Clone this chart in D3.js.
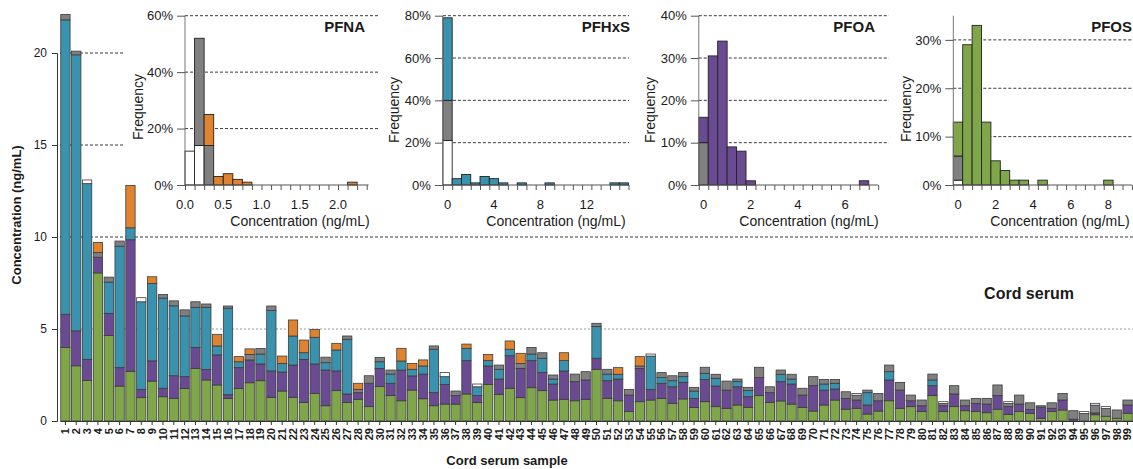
<!DOCTYPE html>
<html><head><meta charset="utf-8">
<script src="https://cdn.jsdelivr.net/npm/d3@7"></script>
<style>
body{margin:0;background:#fff}
svg{display:block}
text{font-family:"Liberation Sans",Arial,Helvetica,sans-serif;fill:#1a1a1a}
</style>
</head><body>
<svg id="c" width="1133" height="469"></svg>
<script>
// ---------- main chart data (ng/mL) ----------
const samples = d3.range(1, 100).map(String);
const pfos  = [4.0,3.0,2.2,8.05,4.65,1.9,2.7,1.27,2.17,1.32,1.23,1.76,2.86,2.23,1.96,1.23,1.76,2.08,2.19,1.29,1.63,1.29,1.01,1.5,0.83,1.65,1.01,1.18,0.78,1.87,1.38,1.1,1.68,1.21,0.83,0.92,0.92,1.47,1.01,1.99,1.45,1.78,1.27,1.81,1.65,1.14,1.18,1.1,1.18,2.81,1.23,1.1,0.51,1.05,1.14,1.23,0.96,1.2,0.74,1.05,0.78,0.69,0.87,0.74,1.38,1.01,1.09,0.92,0.74,0.54,0.87,1.14,0.64,0.69,0.38,0.54,1.1,0.69,0.78,0.51,1.38,0.51,0.78,0.56,0.51,0.45,0.64,0.36,0.51,0.42,0.15,0.51,0.6,0,0,0.34,0.26,0.15,0.42];
const pfoa  = [1.8,1.9,1.15,0.85,1.2,1.0,7.15,0.45,1.1,0.46,1.23,0.65,1.14,0.57,1.63,0.2,1.14,1.24,0.91,1.43,1.03,1.75,2.34,1.6,1.94,1.07,0.46,0.36,1.27,0.99,0.67,1.67,0.77,1.34,0.71,1.07,0.46,1.81,0.37,1.0,0.83,1.77,1.59,1.47,0.98,0.87,1.54,1.04,1.05,0.6,0.96,1.18,0.9,1.81,0.58,0.82,0.9,0.9,0.49,1.21,1.12,0.99,0.99,0.58,0.98,0.53,1.05,1.09,0.67,1.38,0.81,0.6,0.59,0.45,0.49,0.56,1.13,0.99,0.32,0.32,0.54,0.32,0.69,0.27,0.45,0.47,0.74,0.42,0.41,0.2,0.6,0.18,0.54,0.1,0,0.1,0,0,0.45];
const pfhxs = [16.0,15.0,9.55,0,1.7,6.6,0.65,4.76,4.2,4.9,3.8,3.3,2.18,3.38,0.49,4.7,0.32,0,0.54,3.28,0.47,1.58,0.36,1.45,0.4,1.14,2.97,0,0,0.36,0.5,0.49,0.36,0.44,2.36,0.42,0,0.67,0.48,0.29,0.53,0.35,0,0.36,0.78,0.27,0.56,0,0,1.72,0.36,0.26,0,0,1.81,0.31,0.33,0.31,0.4,0.33,0.42,0,0.28,0.33,0,0,0.4,0.27,0,0,0.33,0.31,0,0,0.67,0,0.45,0,0,0,0.31,0,0,0,0,0,0,0,0,0,0,0,0,0,0,0,0,0,0];
const other = [0.3,0.2,0,0.25,0.27,0.28,0,0,0,0.2,0.27,0.33,0.3,0.18,0,0.12,0,0.3,0.3,0.25,0,0,0,0,0.3,0,0.18,0.18,0.41,0.24,0.22,0,0,0,0.18,0,0.25,0,0,0,0.23,0,0.27,0.36,0.3,0.22,0,0.41,0.45,0.18,0.26,0,0.31,0.13,0,0.27,0.27,0.22,0.2,0.33,0.22,0.49,0.14,0.18,0.56,0.32,0.23,0.26,0.37,0.49,0.25,0.21,0.36,0.26,0.14,0.4,0.36,0.42,0.31,0.31,0.32,0.12,0.45,0.31,0.27,0.31,0.58,0.17,0.49,0.37,0.08,0.3,0.36,0.46,0.41,0.42,0.42,0.45,0.27];
const pfna  = [0,0,0,0.55,0,0,2.3,0,0.37,0,0,0,0,0,0.63,0,0.28,0.3,0,0,0.4,0.87,0.69,0.43,0,0.36,0,0.33,0,0,0,0.69,0.32,0.33,0,0,0,0.23,0,0.34,0,0.45,0.55,0,0,0,0.43,0,0,0,0,0.36,0,0.51,0,0,0,0,0,0,0,0,0,0,0,0,0,0,0,0,0,0,0,0,0,0,0,0,0,0,0,0,0,0,0,0,0,0,0,0,0,0,0,0,0,0,0,0,0];
const belowLod = [0,0,0.2,0,0,0,0,0.22,0,0,0,0,0,0,0,0,0,0,0,0,0,0,0,0,0,0,0,0,0,0,0,0,0,0,0,0.22,0,0,0.15,0,0,0,0,0,0,0,0,0,0,0,0,0,0,0,0.11,0,0,0,0,0,0,0,0,0,0,0,0,0,0,0,0,0,0,0.1,0,0,0,0,0,0,0,0.1,0,0,0,0,0,0.1,0,0,0,0,0,0,0.1,0.1,0.1,0,0];
const yTicks = [0, 5, 10, 15, 20];

// ---------- inset histogram data (% of samples) ----------
// PFNA: bins of 0.125 ng/mL, given by left edge
const pfnaBinStart = [0,0.125,0.25,0.375,0.5,0.625,0.75,2.125];
const pfnaWhite    = [12,14,0,0,0,0,0,0];
const pfnaGray     = [0,38,14,0,0,0,0,0];
const pfnaFreq     = [0,0,11,3,4,2,1,1];
const pfnaYTicks = [0,20,40,60];
const pfnaXLabels = [0,0.5,1.0,1.5,2.0];
// PFHxS: bins of 0.8, given by centre
const pfhxsBinMid = [0,0.8,1.6,2.4,3.2,4.0,4.8,6.4,8.8,14.4,15.2];
const pfhxsWhite  = [21,0,0,0,0,0,0,0,0,0,0];
const pfhxsGray   = [19,0,0,0,0,0,0,0,0,0,0];
const pfhxsFreq   = [39,3,5,1,4,3,1,1,1,1,1];
const pfhxsYTicks = [0,20,40,60,80];
const pfhxsXLabels = [0,4,8,12];
// PFOA: bins of 0.4, given by centre
const pfoaBinMid = [0,0.4,0.8,1.2,1.6,2.0,6.8];
const pfoaWhite  = [0,0,0,0,0,0,0];
const pfoaGray   = [10,0,0,0,0,0,0];
const pfoaFreq   = [6,30.5,34,9,8,1,1];
const pfoaYTicks = [0,10,20,30,40];
const pfoaXLabels = [0,2,4,6];
// PFOS: bins of 0.5, given by centre
const pfosBinMid = [0,0.5,1.0,1.5,2.0,2.5,3.0,3.5,4.5,8.0];
const pfosWhite  = [1,0,0,0,0,0,0,0,0,0];
const pfosGray   = [5,0,0,0,0,0,0,0,0,0];
const pfosFreq   = [7,29,33,13,5,3,1,1,1,1];
const pfosYTicks = [0,10,20,30];
const pfosXLabels = [0,2,4,6,8];

// ---------- colours ----------
const C = {pfos:"#80a64a", pfoa:"#6a4a93", pfhxs:"#3a93ae", other:"#808080", pfna:"#e0832f", blank:"#ffffff"};

const svg = d3.select("#c");
const font = '"Liberation Sans",Arial,Helvetica,sans-serif';

// ---------- main chart ----------
const x = d3.scaleBand().domain(samples).range([60, 1133]).paddingInner(0.14).paddingOuter(0.07);
const y = d3.scaleLinear().domain([0, 20]).range([421, 53]);

// gridlines
svg.append("g").selectAll("line").data(yTicks.filter(d => d > 0)).join("line")
  .attr("x1", 60).attr("x2", 1133)
  .attr("y1", d => y(d)).attr("y2", d => y(d))
  .attr("stroke", d => d === 5 ? "#9a9a9a" : "#3a3a3a")
  .attr("stroke-width", 1)
  .attr("stroke-dasharray", d => d === 5 ? "2,2" : "3,2");

// inset backgrounds
svg.append("rect").attr("x", 123).attr("y", 0).attr("width", 1010).attr("height", 229).attr("fill", "#fff");

// stacked bars
const keys = ["pfos","pfoa","pfhxs","other","pfna","blank"];
const rows = samples.map((s, i) => ({sample: s, pfos: pfos[i], pfoa: pfoa[i], pfhxs: pfhxs[i], other: other[i], pfna: pfna[i], blank: belowLod[i]}));
const stacked = d3.stack().keys(keys)(rows);
svg.append("g").selectAll("g").data(stacked).join("g")
  .attr("fill", d => C[d.key])
  .selectAll("rect").data(d => d.filter(e => e[1] - e[0] > 0)).join("rect")
  .attr("x", d => x(d.data.sample))
  .attr("width", x.bandwidth())
  .attr("y", d => y(d[1]))
  .attr("height", d => y(d[0]) - y(d[1]))
  .attr("stroke", "#3c3c3c").attr("stroke-width", 0.8);

// y axis
const ya = svg.append("g").attr("transform", "translate(57,0)")
  .call(d3.axisLeft(y).tickValues(yTicks).tickSize(5).tickPadding(5));
ya.select(".domain").attr("stroke", "#333");
ya.selectAll(".tick line").attr("stroke", "#333");
ya.selectAll("text").attr("font-size", 12).attr("font-family", font).attr("fill", "#1a1a1a");

// x axis
const xa = svg.append("g").attr("transform", "translate(0,421)")
  .call(d3.axisBottom(x).tickSize(4).tickSizeOuter(0));
xa.select(".domain").attr("stroke", "#333");
xa.selectAll(".tick line").attr("stroke", "#333");
xa.selectAll("text")
  .attr("font-size", 11).attr("font-weight", "bold").attr("font-family", font).attr("fill", "#1a1a1a")
  .attr("transform", "rotate(-90)")
  .attr("text-anchor", "end")
  .attr("x", -7).attr("y", 0).attr("dy", "0.35em");

svg.append("text").attr("transform", "translate(21,215) rotate(-90)")
  .attr("text-anchor", "middle").attr("font-size", 13).attr("font-weight", "bold")
  .text("Concentration (ng/mL)");
svg.append("text").attr("x", 507).attr("y", 465)
  .attr("text-anchor", "middle").attr("font-size", 13).attr("font-weight", "bold")
  .text("Cord serum sample");
svg.append("text").attr("x", 1029).attr("y", 299)
  .attr("text-anchor", "middle").attr("font-size", 16).attr("font-weight", "bold")
  .text("Cord serum");

// ---------- insets ----------
function inset(cfg) {
  const g = svg.append("g");
  const xs = d3.scaleLinear().domain(cfg.xDomain).range(cfg.xRange);
  const ys = d3.scaleLinear().domain([0, cfg.yMax]).range([185, 15.7]);
  const x0 = cfg.xRange[0];
  // grid
  g.append("g").selectAll("line").data(cfg.yTicks.filter(d => d > 0)).join("line")
    .attr("x1", x0).attr("x2", cfg.gridEnd)
    .attr("y1", d => ys(d)).attr("y2", d => ys(d))
    .attr("stroke", "#3a3a3a").attr("stroke-dasharray", "3,2");
  // bars
  const data = cfg.lo.map((lo, i) => ({lo, hi: lo + cfg.width, white: cfg.white[i], gray: cfg.gray[i], freq: cfg.freq[i]}));
  const st = d3.stack().keys(["white","gray","freq"])(data);
  const fills = {white: "#ffffff", gray: "#808080", freq: cfg.color};
  g.append("g").selectAll("g").data(st).join("g")
    .attr("fill", d => fills[d.key])
    .selectAll("rect").data(d => d.filter(e => e[1] - e[0] > 0)).join("rect")
    .attr("x", d => xs(d.data.lo)).attr("width", d => xs(d.data.hi) - xs(d.data.lo))
    .attr("y", d => ys(d[1])).attr("height", d => ys(d[0]) - ys(d[1]))
    .attr("stroke", "#222").attr("stroke-width", 0.9);
  // y axis
  const ya = g.append("g").attr("transform", `translate(${x0},0)`)
    .call(d3.axisLeft(ys).tickValues(cfg.yTicks).tickSize(8).tickPadding(4).tickFormat(d => d + "%"));
  ya.select(".domain").attr("d", `M0,185V15.7`).attr("stroke", "#777");
  ya.selectAll(".tick line").attr("stroke", "#555");
  ya.selectAll("text").attr("font-size", 13).attr("font-family", font).attr("fill", "#1a1a1a");
  // x axis with bin-edge ticks
  const xa = g.append("g").attr("transform", "translate(0,185)")
    .call(d3.axisBottom(xs).tickValues(cfg.minor).tickSize(5).tickFormat(""));
  xa.select(".domain").attr("d", `M${x0},0H${cfg.xRange[1]}`).attr("stroke", "#555");
  xa.selectAll(".tick line").attr("stroke", "#555");
  g.append("g").selectAll("text").data(cfg.xLabels).join("text")
    .attr("x", d => xs(d)).attr("y", 209).attr("text-anchor", "middle")
    .attr("font-size", 13).text(cfg.fmt);
  // labels
  g.append("text").attr("x", cfg.titleX).attr("y", 32).attr("text-anchor", "end")
    .attr("font-size", 15).attr("font-weight", "bold").text(cfg.title);
  g.append("text").attr("transform", `translate(${cfg.freqX},${cfg.freqY}) rotate(-90)`)
    .attr("text-anchor", "middle").attr("dy", "0.35em").attr("font-size", 14).text("Frequency");
  g.append("text").attr("x", cfg.axisTitleX).attr("y", 226).attr("text-anchor", "middle")
    .attr("font-size", 14).text("Concentration (ng/mL)");
}

const edges = (start, step, end) => d3.range(0, Math.round((end - start) / step) + 1).map(k => start + k * step);

inset({title: "PFNA", color: C.pfna, xDomain: [0, 2.4], xRange: [185, 368.6], yMax: 60, yTicks: pfnaYTicks,
  lo: pfnaBinStart, width: 0.125, white: pfnaWhite, gray: pfnaGray, freq: pfnaFreq,
  minor: edges(0, 0.125, 2.375), xLabels: pfnaXLabels, fmt: d3.format(".1f"),
  gridEnd: 380, titleX: 365, freqX: 138, freqY: 107, axisTitleX: 300});
inset({title: "PFHxS", color: C.pfhxs, xDomain: [-0.4, 15.6], xRange: [442.9, 628.5], yMax: 80, yTicks: pfhxsYTicks,
  lo: pfhxsBinMid.map(d => d - 0.4), width: 0.8, white: pfhxsWhite, gray: pfhxsGray, freq: pfhxsFreq,
  minor: edges(-0.4, 0.8, 15.6), xLabels: pfhxsXLabels, fmt: d3.format("d"),
  gridEnd: 629, titleX: 630, freqX: 394, freqY: 110, axisTitleX: 556});
inset({title: "PFOA", color: C.pfoa, xDomain: [-0.2, 7.4], xRange: [698.8, 878.2], yMax: 40, yTicks: pfoaYTicks,
  lo: pfoaBinMid.map(d => d - 0.2), width: 0.4, white: pfoaWhite, gray: pfoaGray, freq: pfoaFreq,
  minor: edges(-0.2, 0.4, 7.4), xLabels: pfoaXLabels, fmt: d3.format("d"),
  gridEnd: 889, titleX: 875, freqX: 650, freqY: 110, axisTitleX: 809});
inset({title: "PFOS", color: C.pfos, xDomain: [-0.25, 9.25], xRange: [953.3, 1131.9], yMax: 35, yTicks: pfosYTicks,
  lo: pfosBinMid.map(d => d - 0.25), width: 0.5, white: pfosWhite, gray: pfosGray, freq: pfosFreq,
  minor: edges(-0.25, 0.5, 9.25), xLabels: pfosXLabels, fmt: d3.format("d"),
  gridEnd: 1133, titleX: 1132, freqX: 906, freqY: 109, axisTitleX: 1060});
</script>
</body></html>
